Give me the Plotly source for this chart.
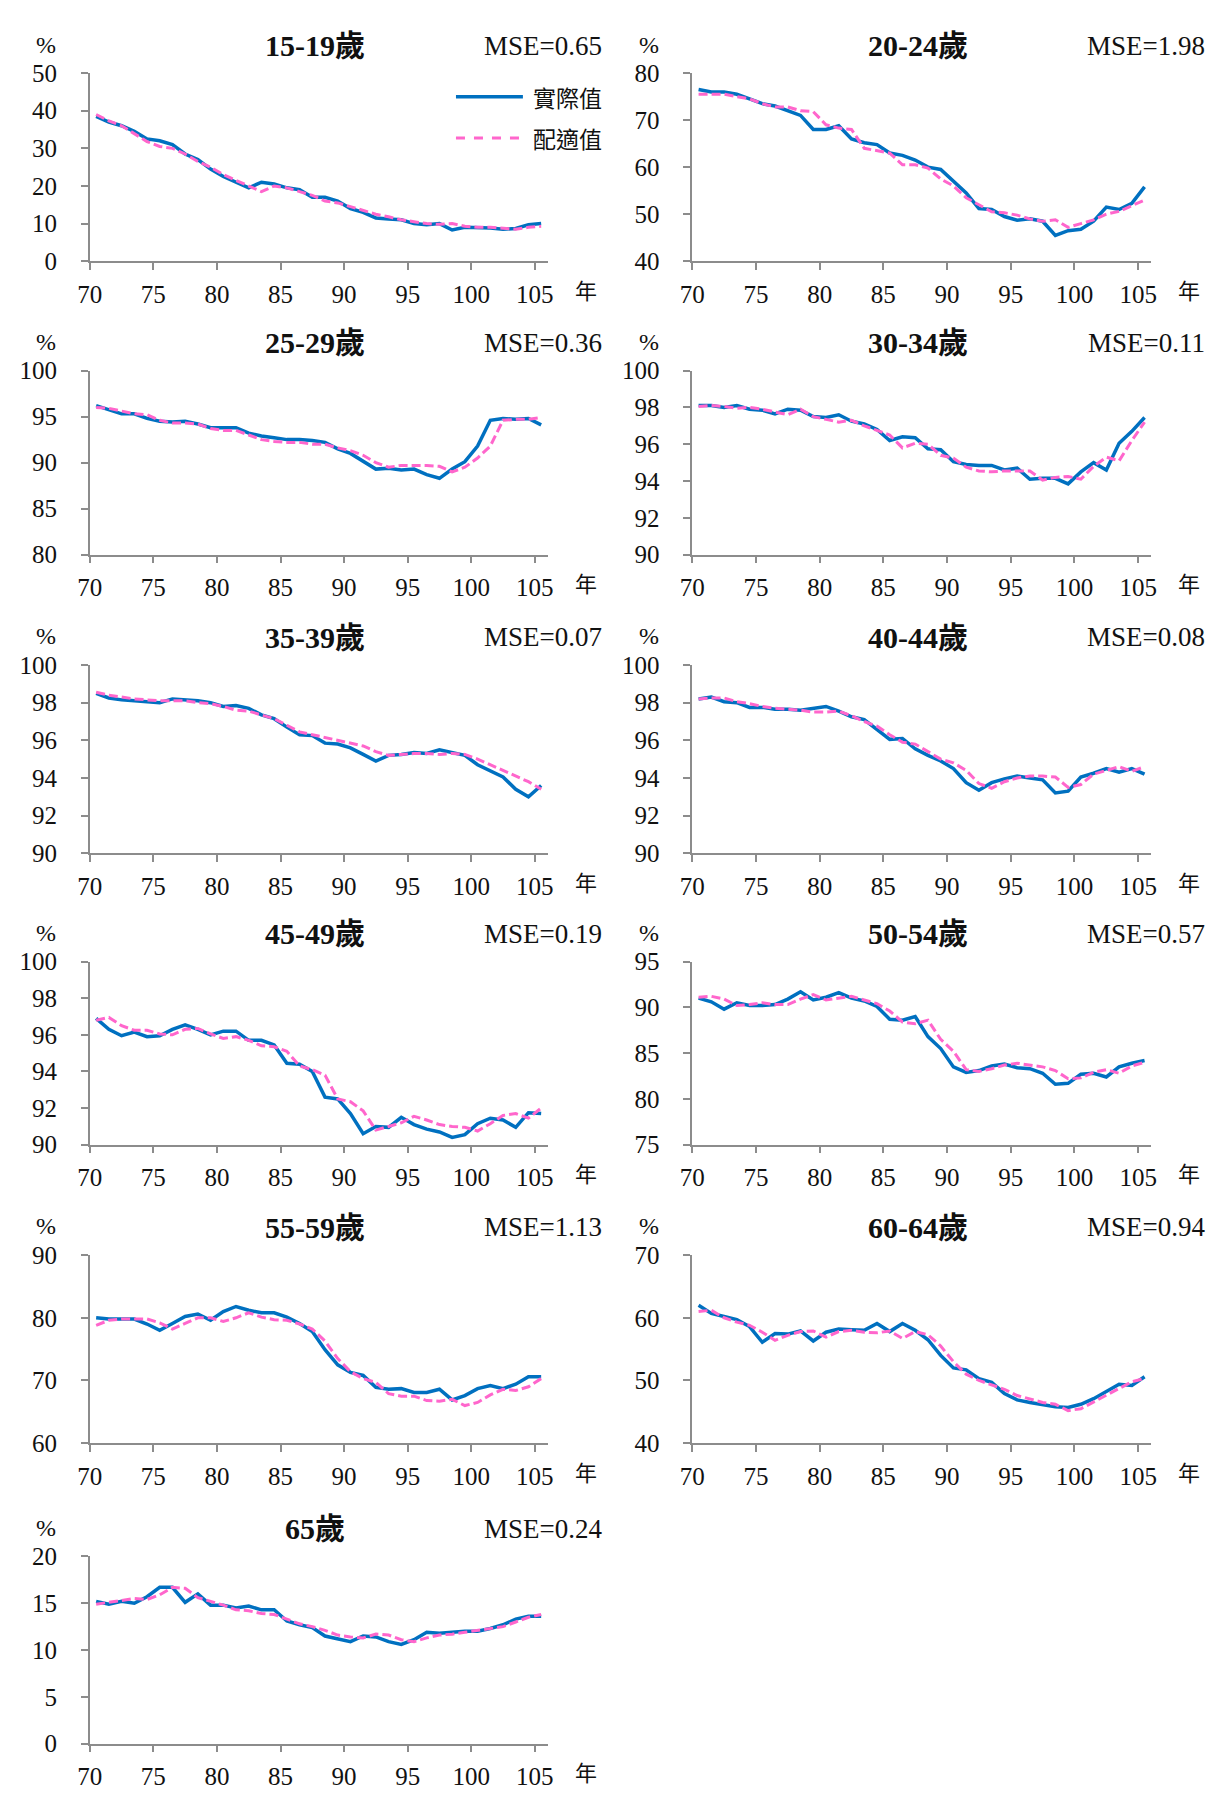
import plotly.graph_objects as go

W, H = 1216, 1798

years = list(range(70, 106))
x_tick_labels = ["70", "75", "80", "85", "90", "95", "100", "105"]

panel_titles = ["15-19歲", "20-24歲", "25-29歲", "30-34歲", "35-39歲", "40-44歲",
                "45-49歲", "50-54歲", "55-59歲", "60-64歲", "65歲"]
mse_labels = ["MSE=0.65", "MSE=1.98", "MSE=0.36", "MSE=0.11", "MSE=0.07", "MSE=0.08",
              "MSE=0.19", "MSE=0.57", "MSE=1.13", "MSE=0.94", "MSE=0.24"]
legend_labels = ["實際值", "配適值"]

actual_15_19 = [38.5, 37, 36, 34.5, 32.5, 32, 31, 28.5, 27, 24.5, 22.5, 21, 19.5, 21, 20.5, 19.5, 19, 17,
                17, 16, 14, 13, 11.5, 11.2, 11, 10, 9.7, 10, 8.3, 9, 9, 8.8, 8.5, 8.7, 9.7, 10]
fitted_15_19 = [39, 37.3, 36, 34, 31.8, 30.5, 30, 28.5, 26.5, 25, 23, 21.5, 20, 18.5, 20, 19.5, 18.5, 17.5,
                16, 15.5, 14.5, 13.5, 12.5, 11.8, 11, 10.5, 10, 9.8, 10, 9.3, 9, 9, 8.7, 8.5, 9, 9.3]

actual_20_24 = [76.5, 76, 76, 75.5, 74.5, 73.5, 73, 72, 71, 68, 68, 68.8, 66, 65.2, 64.8, 63, 62.5, 61.5,
                60, 59.5, 57, 54.5, 51.2, 51, 49.5, 48.7, 49, 48.5, 45.5, 46.5, 46.8, 48.5, 51.5, 51, 52.3, 55.8]
fitted_20_24 = [75.5, 75.5, 75.5, 75, 74.5, 73.5, 72.8, 72.8, 72, 71.8, 69, 68.3, 68, 64, 63.5, 63, 60.5, 60.5,
                59.8, 57.5, 56, 53.5, 52, 50.5, 50.3, 49.8, 49, 48.5, 48.8, 47.2, 48, 48.8, 50, 50.6, 51.8, 53]

actual_25_29 = [96.2, 95.7, 95.3, 95.3, 94.8, 94.5, 94.4, 94.5, 94.2, 93.8, 93.8, 93.8, 93.2, 92.9, 92.7, 92.5,
                92.5, 92.4, 92.2, 91.5, 91, 90.2, 89.3, 89.4, 89.2, 89.3, 88.7, 88.3, 89.3, 90.1, 91.8, 94.6,
                94.8, 94.7, 94.8, 94.1]
fitted_25_29 = [96, 95.9, 95.6, 95.3, 95.2, 94.6, 94.3, 94.3, 94.2, 93.7, 93.5, 93.5, 93, 92.5, 92.3, 92.2,
                92.2, 92, 92, 91.6, 91.3, 90.8, 90, 89.5, 89.7, 89.7, 89.7, 89.6, 89, 89.5, 90.5, 91.8,
                94.6, 94.7, 94.7, 94.9]

actual_30_34 = [98.1, 98.1, 98.0, 98.1, 97.9, 97.85, 97.65, 97.9, 97.85, 97.5, 97.45, 97.6, 97.25, 97.1, 96.8,
                96.2, 96.4, 96.35, 95.75, 95.7, 95.05, 94.9, 94.85, 94.85, 94.6, 94.7, 94.1, 94.15, 94.15,
                93.85, 94.5, 95.0, 94.6, 96.05, 96.7, 97.45]
fitted_30_34 = [98.05, 98.1, 98.05, 97.95, 98.0, 97.9, 97.75, 97.6, 97.9, 97.5, 97.35, 97.2, 97.3, 97.0, 96.75,
                96.5, 95.8, 96.05, 96.0, 95.4, 95.25, 94.75, 94.55, 94.5, 94.55, 94.55, 94.55, 94.05, 94.2,
                94.25, 94.1, 94.8, 95.3, 95.1, 96.2, 97.2]

actual_35_39 = [98.5, 98.25, 98.15, 98.1, 98.05, 98.0, 98.2, 98.15, 98.1, 98.0, 97.8, 97.85, 97.7, 97.35, 97.15,
                96.7, 96.3, 96.25, 95.85, 95.8, 95.6, 95.25, 94.9, 95.2, 95.25, 95.35, 95.3, 95.5, 95.35, 95.2,
                94.7, 94.35, 94.05, 93.4, 93.0, 93.6]
fitted_35_39 = [98.55, 98.4, 98.3, 98.2, 98.15, 98.1, 98.1, 98.1, 98.0, 97.95, 97.8, 97.6, 97.55, 97.35, 97.15,
                96.8, 96.45, 96.3, 96.15, 96.0, 95.85, 95.7, 95.4, 95.2, 95.25, 95.3, 95.3, 95.25, 95.3, 95.25,
                95.0, 94.7, 94.4, 94.1, 93.8, 93.4]

actual_40_44 = [98.2, 98.3, 98.05, 98.0, 97.75, 97.75, 97.65, 97.65, 97.6, 97.7, 97.8, 97.55, 97.25, 97.1, 96.6,
                96.05, 96.1, 95.55, 95.2, 94.9, 94.5, 93.75, 93.35, 93.75, 93.95, 94.1, 94.0, 93.9, 93.2, 93.3,
                94.05, 94.25, 94.5, 94.3, 94.5, 94.2]
fitted_40_44 = [98.2, 98.25, 98.25, 98.05, 97.95, 97.8, 97.7, 97.65, 97.6, 97.5, 97.5, 97.55, 97.3, 97.0, 96.75,
                96.3, 95.9, 95.8, 95.4, 95.0, 94.8, 94.4, 93.7, 93.45, 93.8, 94.0, 94.1, 94.1, 94.05, 93.5,
                93.65, 94.2, 94.4, 94.6, 94.35, 94.6]

actual_45_49 = [96.9, 96.3, 95.95, 96.15, 95.9, 95.95, 96.3, 96.55, 96.3, 96.0, 96.2, 96.2, 95.7, 95.7, 95.45,
                94.45, 94.4, 94.0, 92.6, 92.5, 91.7, 90.6, 91.0, 90.95, 91.5, 91.1, 90.85, 90.7, 90.4, 90.55,
                91.15, 91.45, 91.35, 90.95, 91.75, 91.7]
fitted_45_49 = [96.8, 96.95, 96.5, 96.25, 96.25, 96.05, 96.0, 96.3, 96.35, 96.05, 95.8, 95.9, 95.7, 95.4, 95.35,
                95.1, 94.3, 94.1, 93.8, 92.5, 92.35, 91.85, 90.8, 91.0, 91.2, 91.55, 91.35, 91.1, 91.0, 90.95,
                90.75, 91.15, 91.6, 91.7, 91.45, 92.0]

actual_50_54 = [91.0, 90.6, 89.8, 90.5, 90.2, 90.2, 90.3, 90.9, 91.7, 90.8, 91.1, 91.6, 91.0, 90.7, 90.1, 88.7,
                88.6, 89.0, 86.8, 85.5, 83.5, 82.9, 83.1, 83.6, 83.8, 83.4, 83.3, 82.8, 81.6, 81.7, 82.7, 82.8,
                82.4, 83.5, 83.9, 84.2]
fitted_50_54 = [91.1, 91.2, 90.9, 90.2, 90.3, 90.5, 90.3, 90.3, 90.9, 91.4, 90.8, 91.0, 91.2, 90.8, 90.4, 89.6,
                88.4, 88.2, 88.6, 86.5, 85.2, 83.2, 83.0, 83.3, 83.7, 83.9, 83.7, 83.5, 83.1, 82.2, 82.3, 82.9,
                83.2, 82.8, 83.6, 84.0]

actual_55_59 = [80.0, 79.8, 79.8, 79.8, 79.0, 78.0, 79.1, 80.2, 80.6, 79.6, 81.0, 81.8, 81.2, 80.8, 80.8, 80.1,
                79.1, 77.8, 74.9, 72.5, 71.3, 70.8, 68.9, 68.6, 68.7, 68.1, 68.1, 68.6, 66.9, 67.6, 68.7, 69.2,
                68.7, 69.4, 70.6, 70.6]
fitted_55_59 = [78.8, 79.6, 79.8, 79.8, 79.8, 79.2, 78.2, 79.1, 80.0, 80.0, 79.4, 80.0, 80.8, 80.1, 79.7, 79.6,
                79.0, 78.2, 76.3, 73.5, 71.4, 70.3, 69.7, 67.9, 67.5, 67.5, 66.8, 66.7, 67.0, 66.0, 66.5, 67.7,
                68.6, 68.4, 69.0, 70.3]

actual_60_64 = [62.0, 60.7, 60.2, 59.7, 58.6, 56.1, 57.5, 57.4, 57.9, 56.3, 57.7, 58.2, 58.1, 58.0, 59.1, 57.8,
                59.1, 58.0, 56.5, 54.0, 52.0, 51.7, 50.3, 49.7, 47.9, 46.9, 46.5, 46.1, 45.8, 45.7, 46.2, 47.1,
                48.3, 49.4, 49.2, 50.6]
fitted_60_64 = [61.0, 61.2, 60.0, 59.3, 58.8, 57.7, 56.4, 57.2, 57.8, 57.9, 56.9, 57.8, 58.0, 57.7, 57.6, 57.9,
                56.7, 57.8, 57.3, 55.5, 53.0, 51.0, 50.0, 49.3, 48.6, 47.6, 47.1, 46.5, 46.2, 45.2, 45.5, 46.6,
                47.6, 48.8, 49.8, 50.3]

actual_65 = [15.2, 14.9, 15.2, 15.0, 15.7, 16.7, 16.7, 15.1, 16.0, 14.8, 14.8, 14.5, 14.7, 14.3, 14.3, 13.1,
             12.7, 12.4, 11.5, 11.2, 10.9, 11.5, 11.4, 10.9, 10.6, 11.1, 11.9, 11.8, 11.9, 12.0, 12.0, 12.3,
             12.7, 13.3, 13.6, 13.6]
fitted_65 = [14.9, 15.1, 15.3, 15.5, 15.4, 15.9, 16.7, 16.6, 15.6, 15.2, 14.8, 14.3, 14.2, 13.9, 13.8, 13.3,
             12.8, 12.5, 12.1, 11.6, 11.4, 11.3, 11.7, 11.6, 11.1, 10.9, 11.3, 11.6, 11.7, 11.9, 12.1, 12.3,
             12.5, 13.0, 13.5, 13.8]

y_ticks_15_19 = [0, 10, 20, 30, 40, 50]
y_ticks_20_24 = [40, 50, 60, 70, 80]
y_ticks_25_29 = [80, 85, 90, 95, 100]
y_ticks_30_34 = [90, 92, 94, 96, 98, 100]
y_ticks_35_39 = [90, 92, 94, 96, 98, 100]
y_ticks_40_44 = [90, 92, 94, 96, 98, 100]
y_ticks_45_49 = [90, 92, 94, 96, 98, 100]
y_ticks_50_54 = [75, 80, 85, 90, 95]
y_ticks_55_59 = [60, 70, 80, 90]
y_ticks_60_64 = [40, 50, 60, 70]
y_ticks_65 = [0, 5, 10, 15, 20]

actual_all = [actual_15_19, actual_20_24, actual_25_29, actual_30_34, actual_35_39, actual_40_44,
              actual_45_49, actual_50_54, actual_55_59, actual_60_64, actual_65]
fitted_all = [fitted_15_19, fitted_20_24, fitted_25_29, fitted_30_34, fitted_35_39, fitted_40_44,
              fitted_45_49, fitted_50_54, fitted_55_59, fitted_60_64, fitted_65]
y_ticks_all = [y_ticks_15_19, y_ticks_20_24, y_ticks_25_29, y_ticks_30_34, y_ticks_35_39, y_ticks_40_44,
               y_ticks_45_49, y_ticks_50_54, y_ticks_55_59, y_ticks_60_64, y_ticks_65]

# ---- layout geometry (pixels) ----
COLS = [(78, 543), (690, 1156)]
ROWS = [(61, 252), (363, 550), (662, 853), (963, 1149), (1261, 1452), (1567, 1757)]

BLUE = "#0070C0"
PINK = "#FF66CC"
AXIS = "#8c8c8c"
SERIF = "Liberation Serif, 'Times New Roman', serif"
TITLE_FONT = "Liberation Serif, 'Noto Sans CJK TC', serif"
CJK = "'Noto Sans CJK TC', sans-serif"


def px_x(x):
    return x / W


def px_y(y):
    return 1 - y / H


fig = go.Figure()
annotations = []
shapes = []
layout_axes = {}

# category axis: each year occupies one slot; tick marks on slot boundaries
tick_positions = [y - 0.5 for y in years[::5]]

for i, title in enumerate(panel_titles):
    r, c = divmod(i, 2)
    x0, x1 = COLS[c]
    top, bot = ROWS[r]
    n = i + 1
    xa = "x" if n == 1 else f"x{n}"
    ya = "y" if n == 1 else f"y{n}"
    xkey = "xaxis" if n == 1 else f"xaxis{n}"
    ykey = "yaxis" if n == 1 else f"yaxis{n}"

    fig.add_trace(go.Scatter(x=years, y=actual_all[i], mode="lines", xaxis=xa, yaxis=ya,
                             line=dict(color=BLUE, width=3.5), showlegend=False,
                             name=legend_labels[0]))
    fig.add_trace(go.Scatter(x=years, y=fitted_all[i], mode="lines", xaxis=xa, yaxis=ya,
                             line=dict(color=PINK, width=3, dash="9px,4px"), showlegend=False,
                             name=legend_labels[1]))

    yt = y_ticks_all[i]
    layout_axes[xkey] = dict(
        domain=[px_x(x0), px_x(x1)], anchor=ya, range=[years[0] - 0.5, years[-1] + 0.5],
        tickmode="array", tickvals=tick_positions, ticktext=x_tick_labels,
        ticks="outside", ticklen=7, tickcolor=AXIS, tickwidth=1.5,
        showline=True, linecolor=AXIS, linewidth=1.5, showgrid=False, zeroline=False,
        tickfont=dict(family=SERIF, size=25, color="#111"), ticklabelstandoff=3,
        fixedrange=True,
    )
    layout_axes[ykey] = dict(
        domain=[px_y(bot), px_y(top)], anchor=xa, range=[yt[0], yt[-1]],
        tickmode="array", tickvals=yt, ticktext=[str(v) for v in yt],
        ticks="outside", ticklen=7, tickcolor=AXIS, tickwidth=1.5,
        showline=True, linecolor=AXIS, linewidth=1.5, showgrid=False, zeroline=False,
        tickfont=dict(family=SERIF, size=25, color="#111"), ticklabelstandoff=19,
        fixedrange=True,
    )

    # "%" unit label
    annotations.append(dict(text="%", xref="paper", yref="paper", x=px_x(x0 - 44), y=px_y(top - 29),
                            xanchor="center", yanchor="middle", showarrow=False,
                            font=dict(family=SERIF, size=24, color="#111")))
    # panel title
    annotations.append(dict(text=f"<b>{title}</b>", xref="paper", yref="paper",
                            x=px_x((x0 + x1) / 2 - 4), y=px_y(top - 28),
                            xanchor="center", yanchor="middle", showarrow=False,
                            font=dict(family=TITLE_FONT, size=30, color="#111")))
    # MSE
    annotations.append(dict(text=mse_labels[i], xref="paper", yref="paper",
                            x=px_x(x1 + 57), y=px_y(top - 28),
                            xanchor="right", yanchor="middle", showarrow=False,
                            font=dict(family=SERIF, size=27, color="#111")))
    # 年
    annotations.append(dict(text="年", xref="paper", yref="paper",
                            x=px_x(x1 + 39), y=px_y(bot + 28),
                            xanchor="center", yanchor="middle", showarrow=False,
                            font=dict(family=CJK, size=22, color="#111")))

# legend in first panel (drawn as decoration)
leg_items = [(legend_labels[0], BLUE, "solid", 3.5, 85), (legend_labels[1], PINK, "dash", 3, 127)]
for label, color, dash, width, yy in leg_items:
    shapes.append(dict(type="line", xref="paper", yref="paper",
                       x0=px_x(450), x1=px_x(518), y0=px_y(yy), y1=px_y(yy),
                       line=dict(color=color, width=width, dash=dash)))
    annotations.append(dict(text=label, xref="paper", yref="paper", x=px_x(526), y=px_y(yy),
                            xanchor="left", yanchor="middle", showarrow=False,
                            font=dict(family=CJK, size=23, color="#111")))

fig.update_layout(
    width=W, height=H, margin=dict(l=0, r=0, t=0, b=0),
    paper_bgcolor="white", plot_bgcolor="white",
    showlegend=False, annotations=annotations, shapes=shapes,
    **layout_axes,
)

fig.write_html("out.html", config={"displayModeBar": False},
               post_script="document.body.style.margin='0';document.body.style.padding='0';"
                           "document.documentElement.style.overflow='hidden';")
